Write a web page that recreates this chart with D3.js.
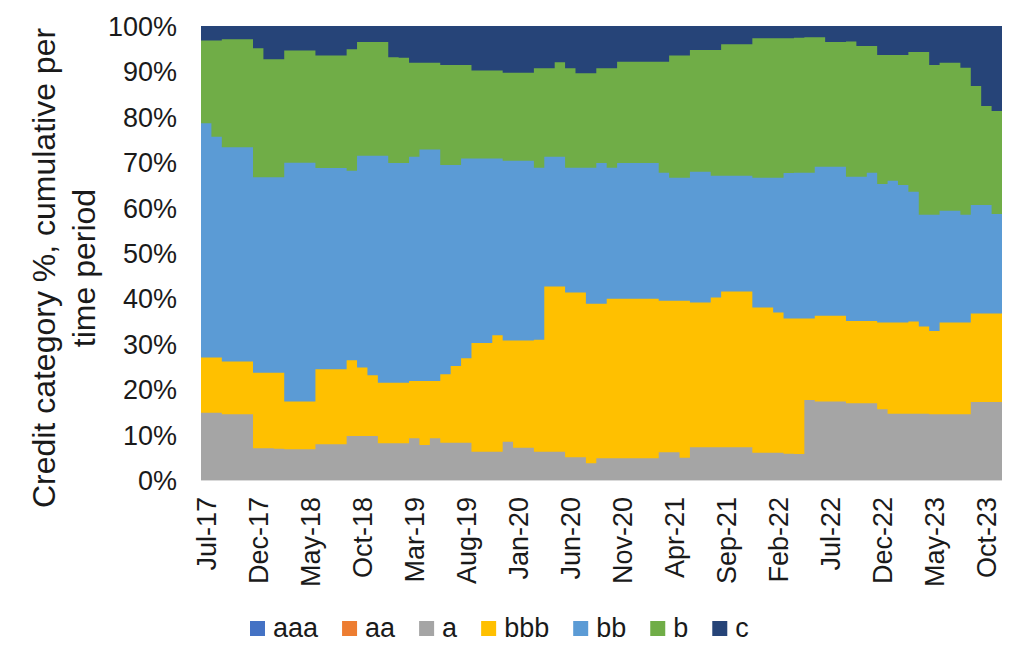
<!DOCTYPE html>
<html>
<head>
<meta charset="utf-8">
<script src="https://cdn.jsdelivr.net/npm/d3@7"></script>
<style>
  html, body { margin: 0; padding: 0; background: #ffffff; }
  svg { display: block; font-family: "Liberation Sans", Arial, sans-serif; }
</style>
</head>
<body>
<svg id="chart" width="1024" height="666"></svg>
<script>
// ---------------- data ----------------
const months = [
  "Jul-17","Aug-17","Sep-17","Oct-17","Nov-17","Dec-17",
  "Jan-18","Feb-18","Mar-18","Apr-18","May-18","Jun-18","Jul-18","Aug-18","Sep-18","Oct-18","Nov-18","Dec-18",
  "Jan-19","Feb-19","Mar-19","Apr-19","May-19","Jun-19","Jul-19","Aug-19","Sep-19","Oct-19","Nov-19","Dec-19",
  "Jan-20","Feb-20","Mar-20","Apr-20","May-20","Jun-20","Jul-20","Aug-20","Sep-20","Oct-20","Nov-20","Dec-20",
  "Jan-21","Feb-21","Mar-21","Apr-21","May-21","Jun-21","Jul-21","Aug-21","Sep-21","Oct-21","Nov-21","Dec-21",
  "Jan-22","Feb-22","Mar-22","Apr-22","May-22","Jun-22","Jul-22","Aug-22","Sep-22","Oct-22","Nov-22","Dec-22",
  "Jan-23","Feb-23","Mar-23","Apr-23","May-23","Jun-23","Jul-23","Aug-23","Sep-23","Oct-23","Nov-23"
];

const seriesNames = ["aaa","aa","a","bbb","bb","b","c"];

const aaa = [0,0,0,0,0,0,0,0,0,0,0,0,0,0,0,0,0,0,0,0,0,0,0,0,0,0,0,0,0,0,0,0,0,0,0,0,0,0,0,0,
             0,0,0,0,0,0,0,0,0,0,0,0,0,0,0,0,0,0,0,0,0,0,0,0,0,0,0,0,0,0,0,0,0,0,0,0,0];
const aa  = [0,0,0,0,0,0,0,0,0,0,0,0,0,0,0,0,0,0,0,0,0,0,0,0,0,0,0,0,0,0,0,0,0,0,0,0,0,0,0,0,
             0,0,0,0,0,0,0,0,0,0,0,0,0,0,0,0,0,0,0,0,0,0,0,0,0,0,0,0,0,0,0,0,0,0,0,0,0];
const a   = [14.8,14.8,14.5,14.5,14.5, 7.0,7.0,6.9,6.8,6.8, 6.8,7.9,7.9,7.9,9.7,
             9.7,9.7,8.1,8.1,8.1, 9.2,7.7,9.2,8.2,8.2, 8.2,6.2,6.2,6.2,8.4,
             7.1,7.1,6.2,6.2,6.2, 5.0,5.0,3.7,4.8,4.8, 4.8,4.8,4.8,4.8,6.1,
             6.1,4.9,7.2,7.2,7.2, 7.2,7.2,7.2,6.0,6.0, 6.0,5.8,5.7,17.6,17.3,
             17.3,17.3,16.9,16.9,16.9, 15.6,14.6,14.6,14.6,14.6, 14.5,14.5,14.5,14.5,17.2,
             17.2,17.2];
const bbb = [12.2,12.2,11.6,11.6,11.6, 16.6,16.6,16.7,10.5,10.5, 10.5,16.5,16.5,16.5,16.7,
             15.1,13.4,13.3,13.3,13.3, 12.6,14.1,12.6,15.1,16.9, 18.6,24.0,24.0,25.7,22.3,
             23.6,23.6,24.7,36.4,36.4, 36.3,36.3,35.1,34.0,35.1, 35.1,35.1,35.1,35.1,33.4,
             33.4,34.6,31.9,31.9,33.0, 34.3,34.3,34.3,32.0,32.0, 30.9,29.8,29.9,18.0,18.9,
             18.9,18.9,18.1,18.1,18.1, 19.1,20.1,20.1,20.3,19.2, 18.3,20.2,20.2,20.2,19.5,
             19.5,19.5];
const bb  = [51.6,48.6,47.2,47.2,47.2, 43.1,43.1,43.1,52.6,52.6, 52.6,44.3,44.3,44.3,41.7,
             46.6,48.3,50.0,48.4,48.4, 49.4,51.0,51.0,46.1,44.3, 44.0,40.6,40.6,38.9,39.6,
             39.6,39.6,37.9,28.6,28.6, 27.5,27.5,30.0,31.0,28.9, 29.9,29.9,29.9,29.9,28.2,
             27.1,27.1,28.8,28.8,26.8, 25.5,25.5,25.5,28.6,28.6, 29.7,32.0,32.1,32.1,32.8,
             32.8,32.8,31.8,31.8,32.7, 30.5,31.2,30.3,28.6,24.6, 25.6,24.6,24.6,23.7,23.9,
             23.9,21.9];
const b   = [18.2,21.2,23.8,23.8,23.8, 28.4,26.0,26.0,24.7,24.7, 24.7,24.8,24.8,24.8,26.8,
             25.1,25.1,25.1,23.3,23.2, 20.7,19.1,19.1,22.0,22.0, 20.6,19.4,19.4,19.4,19.4,
             19.4,19.4,21.9,19.5,20.8, 21.9,20.8,20.8,20.9,21.9, 22.3,22.3,22.3,22.3,24.4,
             26.9,26.9,26.8,26.8,27.7, 29.0,29.0,29.0,30.7,30.7, 30.7,29.7,29.7,29.8,28.5,
             27.5,27.5,29.8,28.8,27.9, 28.4,27.7,28.6,30.8,35.9, 33.0,32.6,32.6,32.4,26.2,
             21.8,22.7];
const c   = [3.2,3.2,2.9,2.9,2.9, 4.9,7.3,7.3,5.4,5.4, 5.4,6.5,6.5,6.5,5.1,
             3.5,3.5,3.5,6.9,7.0, 8.1,8.1,8.1,8.6,8.6, 8.6,9.8,9.8,9.8,10.3,
             10.3,10.3,9.3,9.3,8.0, 9.3,10.4,10.4,9.3,9.3, 7.9,7.9,7.9,7.9,7.9,
             6.5,6.5,5.3,5.3,5.3, 4.0,4.0,4.0,2.7,2.7, 2.7,2.7,2.6,2.5,2.5,
             3.5,3.5,3.4,4.4,4.4, 6.4,6.4,6.4,5.7,5.7, 8.6,8.1,8.1,9.2,13.2,
             17.6,18.7];

const xTickLabels = ["Jul-17","Dec-17","May-18","Oct-18","Mar-19","Aug-19","Jan-20","Jun-20",
                     "Nov-20","Apr-21","Sep-21","Feb-22","Jul-22","Dec-22","May-23","Oct-23"];
const yTicks = [0,10,20,30,40,50,60,70,80,90,100];

// ---------------- styles ----------------
const colors = {
  aaa: "#4472C4", aa: "#ED7D31", a: "#A5A5A5", bbb: "#FFC000",
  bb: "#5B9BD5", b: "#70AD47", c: "#264478"
};
const values = { aaa, aa, a, bbb, bb, b, c };

const plot = { left: 201, right: 1002, top: 26, bottom: 480 };
const fontTick = 27;

const svg = d3.select("#chart");

const x = d3.scaleBand().domain(months).range([plot.left, plot.right]).padding(0);
const y = d3.scaleLinear().domain([0, 100]).range([plot.bottom, plot.top]);

const rows = months.map((m, i) => {
  const r = { month: m };
  seriesNames.forEach(k => r[k] = values[k][i]);
  return r;
});

const stacked = d3.stack().keys(seriesNames)(rows);

// step areas (each month is a full-width column); painted top layer first,
// each filled from the baseline, so shared edges have no seams
const area = d3.area()
  .x(p => p.x)
  .y0(() => y(0))
  .y1(p => y(p.top));

const layers = stacked.slice().reverse();
svg.append("g").selectAll("path")
  .data(layers)
  .join("path")
  .attr("fill", s => colors[s.key])
  .attr("d", s => {
    const pts = [];
    s.forEach(d => {
      const x0 = x(d.data.month);
      pts.push({ x: x0, top: d[1] });
      pts.push({ x: x0 + x.bandwidth(), top: d[1] });
    });
    return area(pts);
  });

// x axis line
svg.append("line")
  .attr("x1", plot.left).attr("x2", plot.right)
  .attr("y1", plot.bottom + 0.5).attr("y2", plot.bottom + 0.5)
  .attr("stroke", "#D9D9D9").attr("stroke-width", 1.2);

// y axis
const yAxis = svg.append("g")
  .attr("transform", `translate(${plot.left},0)`)
  .call(d3.axisLeft(y).tickValues(yTicks).tickFormat(d => d + "%").tickSize(0).tickPadding(24));
yAxis.select(".domain").remove();
yAxis.selectAll("text")
  .attr("font-size", fontTick)
  .attr("font-family", '"Liberation Sans", Arial, sans-serif')
  .attr("fill", "#1a1a1a")
  .attr("dy", "0.35em");

// x axis labels
const xAxis = svg.append("g")
  .attr("transform", `translate(0,${plot.bottom})`)
  .call(d3.axisBottom(x).tickValues(xTickLabels).tickSize(0));
xAxis.select(".domain").remove();
xAxis.selectAll("text")
  .attr("font-size", fontTick)
  .attr("font-family", '"Liberation Sans", Arial, sans-serif')
  .attr("fill", "#1a1a1a")
  .attr("y", 0)
  .attr("x", -17)
  .attr("dy", "0.35em")
  .attr("text-anchor", "end")
  .attr("transform", "rotate(-90)");

// y title
const title = svg.append("text")
  .attr("transform", "translate(55,268) rotate(-90)")
  .attr("text-anchor", "middle")
  .attr("font-size", 32)
  .attr("fill", "#1a1a1a");
title.append("tspan").attr("x", 0).attr("y", 0).text("Credit category %, cumulative per");
title.append("tspan").attr("x", 0).attr("y", 40).text("time period");

// legend
const legend = svg.append("g");
let lx = 250;
seriesNames.forEach(k => {
  legend.append("rect")
    .attr("x", lx).attr("y", 621).attr("width", 15).attr("height", 15)
    .attr("fill", colors[k]);
  const t = legend.append("text")
    .attr("x", lx + 23).attr("y", 637)
    .attr("font-size", fontTick)
    .attr("fill", "#1a1a1a")
    .text(k);
  lx += 23 + t.node().getComputedTextLength() + 24;
});
</script>
</body>
</html>
